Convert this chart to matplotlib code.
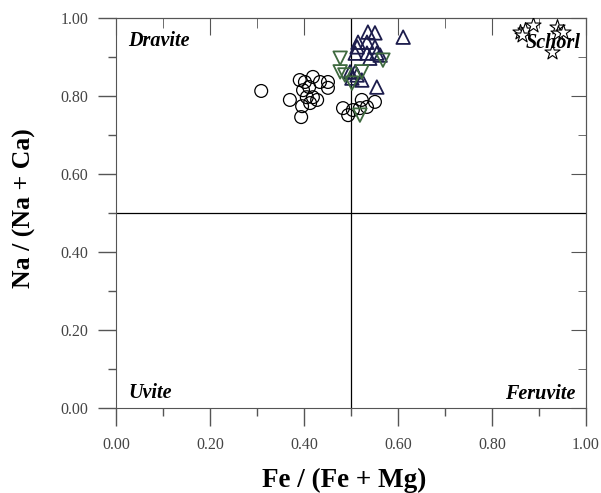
import numpy as np
import matplotlib.pyplot as plt

plt.rcParams['font.family'] = 'Liberation Serif'

# circles
cx = [0.309, 0.37, 0.391, 0.402, 0.419, 0.434, 0.451, 0.451, 0.411, 0.398,
      0.419, 0.406, 0.396, 0.413, 0.428, 0.394, 0.483, 0.494, 0.523, 0.534,
      0.551, 0.519, 0.504]
cy = [0.813, 0.790, 0.841, 0.836, 0.849, 0.836, 0.836, 0.821, 0.823, 0.815,
      0.797, 0.797, 0.774, 0.782, 0.790, 0.746, 0.769, 0.751, 0.790, 0.772,
      0.785, 0.769, 0.764]

# up triangles
tx = [0.536, 0.551, 0.611, 0.515, 0.534, 0.513, 0.551, 0.509, 0.534, 0.555,
      0.540, 0.562, 0.498, 0.509, 0.502, 0.523, 0.555, 0.513]
ty = [0.964, 0.962, 0.951, 0.938, 0.938, 0.926, 0.926, 0.910, 0.910, 0.910,
      0.897, 0.905, 0.862, 0.862, 0.846, 0.841, 0.823, 0.854]

# down triangles
vx = [0.477, 0.568, 0.477, 0.523, 0.502, 0.519, 0.487]
vy = [0.897, 0.892, 0.862, 0.862, 0.833, 0.751, 0.854]

# stars
sx = [0.860, 0.870, 0.887, 0.864, 0.938, 0.940, 0.951, 0.928]
sy = [0.964, 0.969, 0.982, 0.956, 0.977, 0.962, 0.964, 0.913]

fig = plt.figure(figsize=(6.01, 4.93), dpi=100)
ax = fig.add_axes([0.193, 0.1724, 0.782, 0.791])

ax.axvline(0.5, color='black', lw=0.9, zorder=1)
ax.axhline(0.5, color='black', lw=0.9, zorder=1)

ax.scatter(cx, cy, s=85, marker='o', facecolors='none', edgecolors='black', linewidths=0.9, zorder=3)
ax.scatter(tx, ty, s=95, marker='^', facecolors='none', edgecolors='#1c1c4c', linewidths=1.3, zorder=4)
ax.scatter(vx, vy, s=95, marker='v', facecolors='none', edgecolors='#3f6a3f', linewidths=1.3, zorder=4)
ax.scatter(sx, sy, s=130, marker='*', facecolors='white', edgecolors='black', linewidths=0.8, zorder=5)

lab = dict(fontsize=14.5, fontweight='bold', fontstyle='italic', zorder=6)
ax.text(0.026, 0.941, 'Dravite', ha='left', va='center', **lab)
ax.text(0.988, 0.935, 'Schorl', ha='right', va='center', **lab)
ax.text(0.026, 0.038, 'Uvite', ha='left', va='center', **lab)
ax.text(0.977, 0.036, 'Feruvite', ha='right', va='center', **lab)

ax.set_xlim(0, 1)
ax.set_ylim(0, 1)
major = np.arange(0, 1.01, 0.2)
minor = np.arange(0.1, 1.0, 0.2)
ax.set_xticks(major)
ax.set_yticks(major)
ax.set_xticks(minor, minor=True)
ax.set_yticks(minor, minor=True)
ax.set_xticklabels(['%.2f' % v for v in major])
ax.set_yticklabels(['%.2f' % v for v in major])

tc = '#555555'
ax.tick_params(which='major', direction='out', length=13, width=1, color=tc,
               labelsize=11.5, labelcolor='#444444')
ax.tick_params(axis='x', which='major', pad=8)
ax.tick_params(axis='y', which='major', pad=7)
ax.tick_params(which='minor', direction='out', length=6, width=1, color=tc)
for s in ax.spines.values():
    s.set_color(tc)

# ticks pointing inward on top and right
top = ax.secondary_xaxis('top')
top.set_xticks(major)
top.set_xticks(minor, minor=True)
top.set_xticklabels([])
top.tick_params(which='major', direction='in', length=12, color=tc)
top.tick_params(which='minor', direction='in', length=7, color=tc)
top.spines['top'].set_color(tc)
right = ax.secondary_yaxis('right')
right.set_yticks(major)
right.set_yticks(minor, minor=True)
right.set_yticklabels([])
right.tick_params(which='major', direction='in', length=11, color=tc)
right.tick_params(which='minor', direction='in', length=6, color=tc)
right.spines['right'].set_color(tc)

fig.text(0.573, 0.026, 'Fe / (Fe + Mg)', fontsize=19.5, fontweight='bold',
         ha='center', va='center')
fig.text(0.040, 0.578, 'Na / (Na + Ca)', fontsize=18.5, fontweight='bold',
         ha='center', va='center', rotation=90)

fig.savefig('out.png', dpi=100)
